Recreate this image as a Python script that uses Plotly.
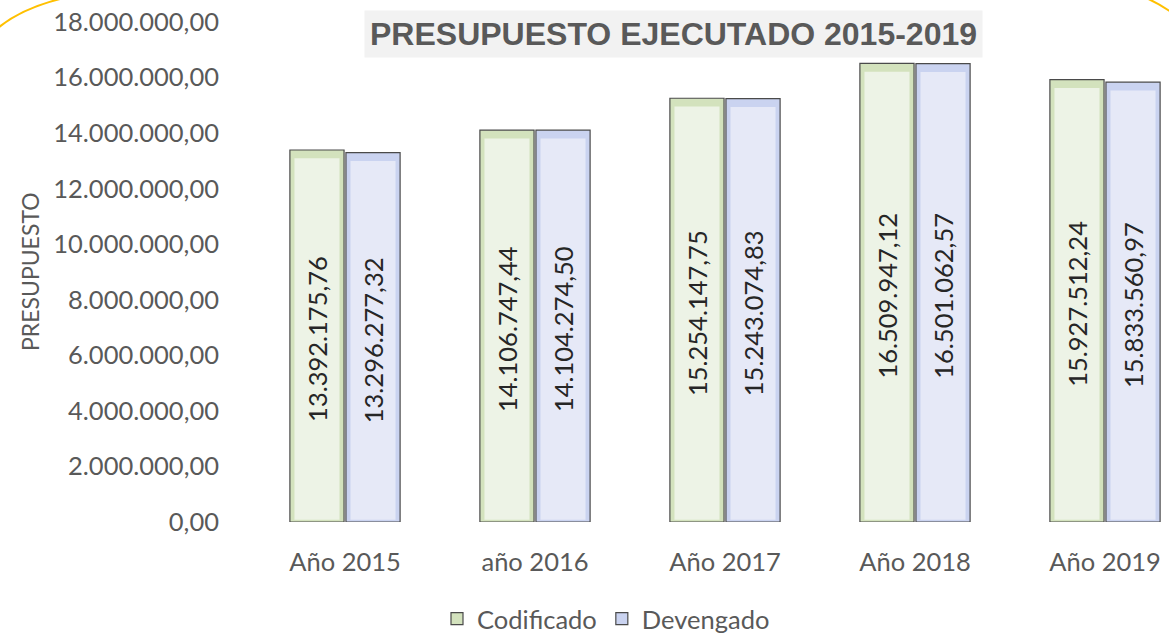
import plotly.graph_objects as go

categories = ["Año 2015", "año 2016", "Año 2017", "Año 2018", "Año 2019"]
codificado = [13392175.76, 14106747.44, 15254147.75, 16509947.12, 15927512.24]
devengado = [13296277.32, 14104274.50, 15243074.83, 16501062.57, 15833560.97]

FONT = "Lato"
GRAY = "#595959"
FS = 25.5

# bar geometry (category units) and bevel styling
BW = 0.285          # bar width
OFF = [-0.29, 0.005]  # bar offsets for the two series
INSET = 0.024       # side bevel width
TOP_BEVEL = 300000  # top bevel depth in axis units
BOT_BEVEL = 80000

series = [
    ("Codificado", codificado, "#d3e2bd", "#edf3e6"),
    ("Devengado", devengado, "#cad3f0", "#e6e9f7"),
]

fig = go.Figure()
for i, (name, vals, edge, face) in enumerate(series):
    fig.add_trace(go.Bar(
        name=name, x=categories, y=vals, width=BW, offset=OFF[i],
        marker=dict(color=edge, line=dict(color="#4a4a4a", width=1.2)),
        hoverinfo="skip", legendgroup=name,
    ))
    fig.add_trace(go.Bar(
        name=name, x=categories, y=[v - TOP_BEVEL - BOT_BEVEL for v in vals],
        base=BOT_BEVEL, width=BW - 2 * INSET, offset=OFF[i] + INSET,
        marker=dict(color=face, line=dict(width=0)),
        text=vals, texttemplate="%{text:,.2f}", textposition="inside",
        insidetextanchor="middle", textangle=-90, constraintext="none",
        textfont=dict(family=FONT, size=FS, color="#262626"),
        showlegend=False, legendgroup=name, hoverinfo="skip",
    ))

L, T, B = 250, 22, 111
W, H = 1169, 633
pw = W - L
ph = H - T - B

def px(x):
    return (x - L) / pw

def py(y):
    return (H - B - y) / ph

fig.update_layout(
    width=W, height=H,
    margin=dict(l=L, r=0, t=T, b=B, autoexpand=False),
    paper_bgcolor="white", plot_bgcolor="white",
    separators=",.",
    barmode="overlay",
    font=dict(family=FONT, color=GRAY),
    showlegend=True,
    legend=dict(orientation="h", x=px(606), xanchor="center", y=py(619), yanchor="middle",
                font=dict(family=FONT, size=FS, color=GRAY), itemwidth=30,
                traceorder="normal"),
    xaxis=dict(type="category", range=[-0.5, -0.5 + pw / 190.0], showgrid=False,
               showline=False, zeroline=False, ticks="", automargin=False,
               tickfont=dict(family=FONT, size=FS, color=GRAY), ticklabelstandoff=22),
    yaxis=dict(range=[0, 18000000], dtick=2000000, tickformat=",.2f", showgrid=False,
               showline=False, zeroline=False, ticks="", automargin=False,
               tickfont=dict(family=FONT, size=FS, color=GRAY), ticklabelstandoff=30),
    annotations=[
        dict(text="<b>PRESUPUESTO EJECUTADO 2015-2019</b>", xref="paper", yref="paper",
             x=px(673), y=py(34), xanchor="center", yanchor="middle", showarrow=False,
             font=dict(family="Liberation Sans", size=32, color=GRAY),
             bgcolor="#f2f2f2", borderpad=5),
        dict(text="PRESUPUESTO", xref="paper", yref="paper", x=px(30), y=py(272),
             xanchor="center", yanchor="middle", showarrow=False, textangle=-90,
             font=dict(family=FONT, size=23, color=GRAY)),
    ],
    shapes=[
        dict(type="path", xref="paper", yref="paper",
             path=f"M {px(-2)} {py(28)} Q {px(22)} {py(8)} {px(64)} {py(-2)}",
             line=dict(color="#ffc000", width=2)),
        dict(type="path", xref="paper", yref="paper",
             path=f"M {px(1146)} {py(-2)} Q {px(1158)} {py(3)} {px(1171)} {py(12)}",
             line=dict(color="#ffc000", width=2)),
    ],
)

fig.write_html("out.html")
